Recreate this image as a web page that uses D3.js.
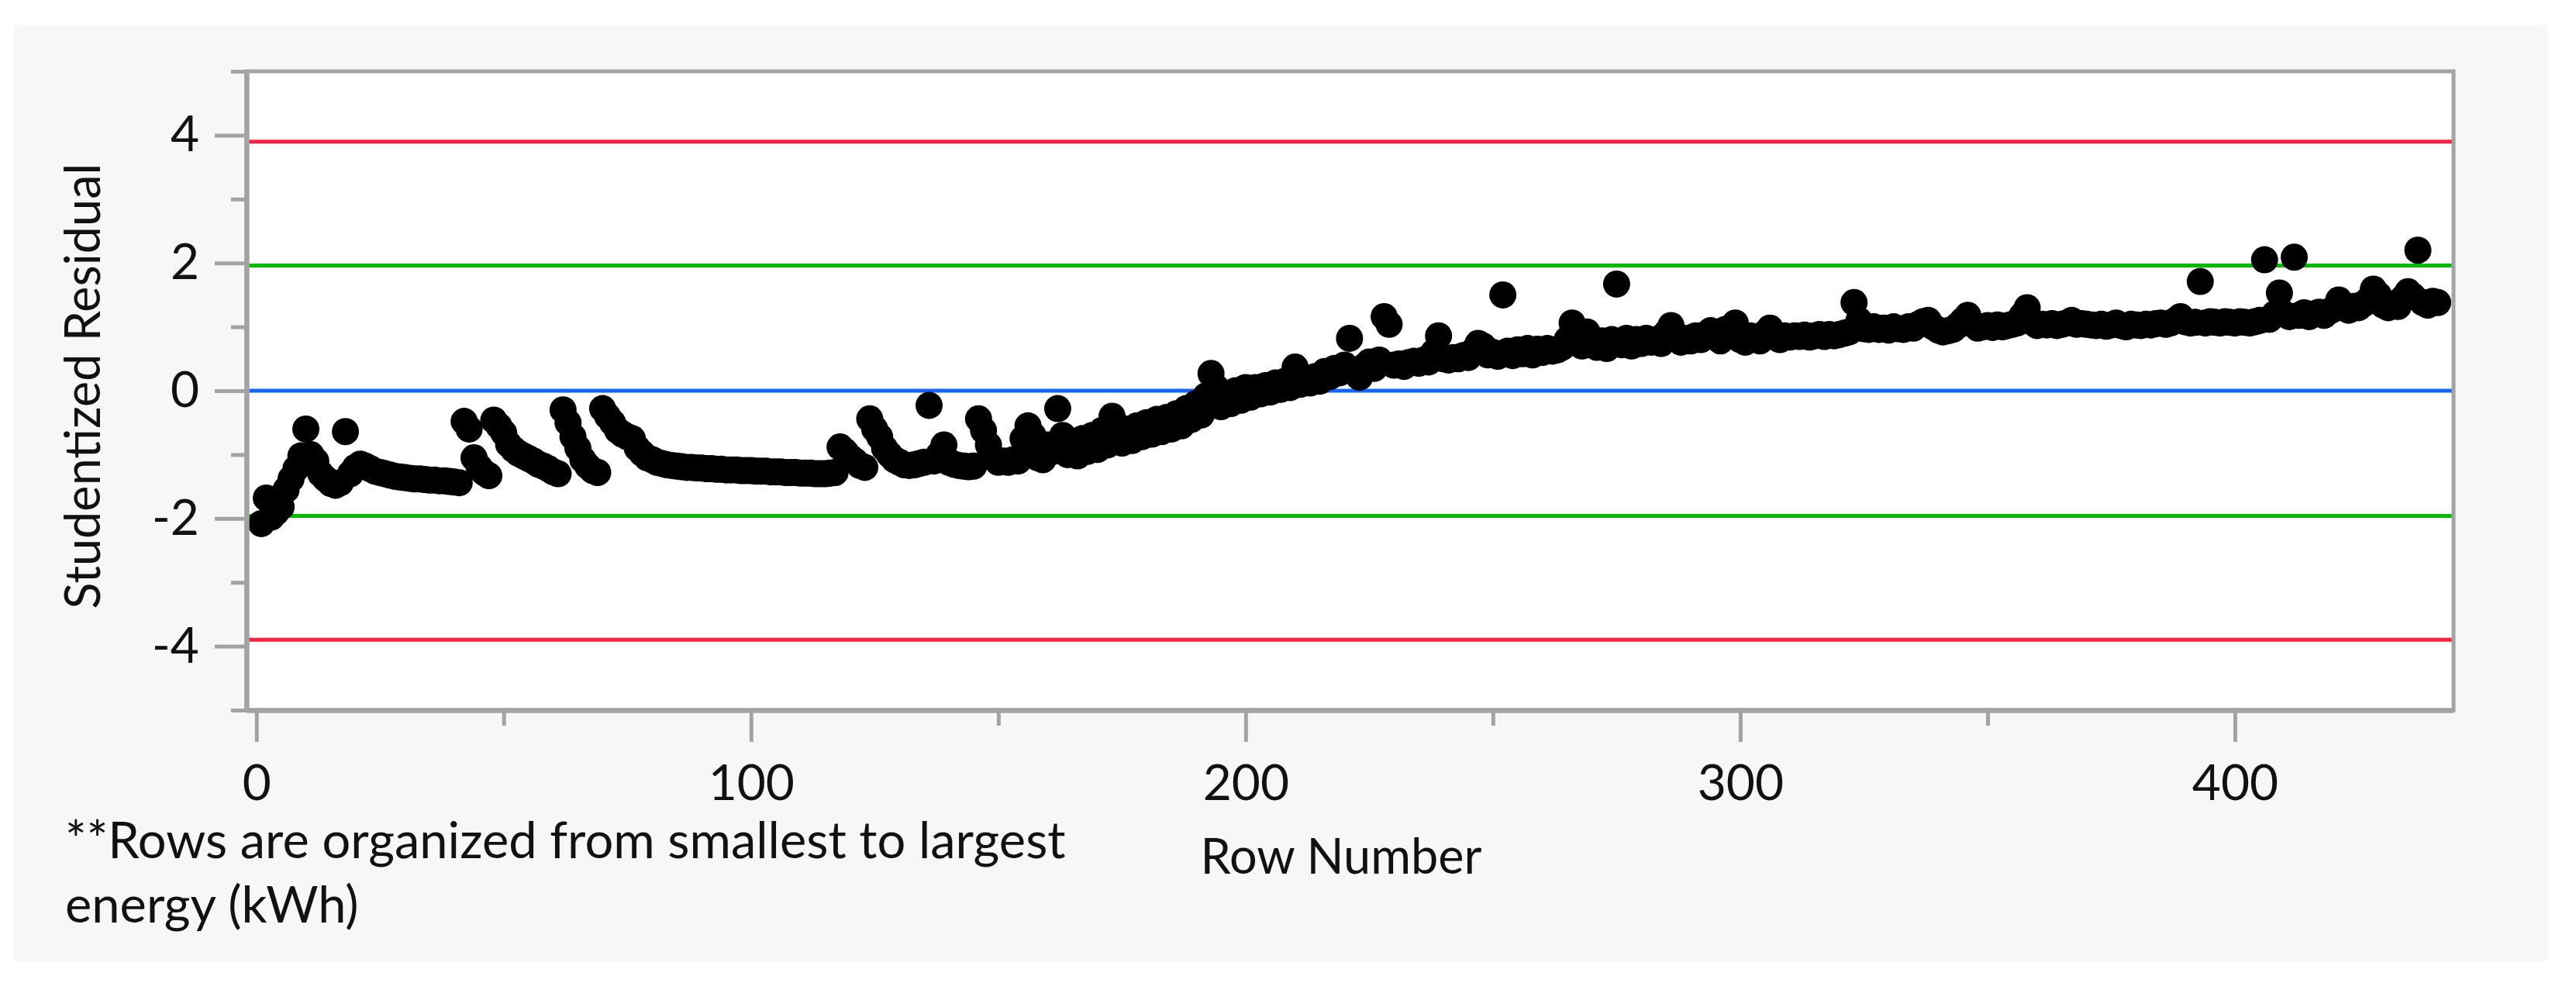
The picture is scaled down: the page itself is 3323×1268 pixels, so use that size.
<!DOCTYPE html>
<html>
<head>
<meta charset="utf-8">
<script src="https://cdn.jsdelivr.net/npm/d3@7"></script>
<style>
  body { margin: 0; background: #ffffff; }
  svg { display: block; font-family: Lato, 'Open Sans', sans-serif; }
</style>
</head>
<body>
<svg id="residuals" width="3323" height="1268"></svg>
<script>
// studentized residual per row, rows sorted by energy
var residual = [
  -2.08, -1.68, -1.98, -1.90, -1.82, -1.55, -1.38, -1.22, -1.02, -0.60,
  -1.00, -1.10, -1.30, -1.38, -1.45, -1.48, -1.44, -0.64, -1.30, -1.20,
  -1.15, -1.18, -1.22, -1.26, -1.28, -1.30, -1.32, -1.34, -1.35, -1.36,
  -1.37, -1.38, -1.38, -1.39, -1.40, -1.40, -1.41, -1.41, -1.42, -1.43,
  -1.44, -0.48, -0.60, -1.05, -1.19, -1.28, -1.33, -0.46, -0.55, -0.66,
  -0.84, -0.92, -0.98, -1.02, -1.06, -1.10, -1.15, -1.18, -1.22, -1.27,
  -1.30, -0.30, -0.50, -0.72, -0.90, -1.08, -1.18, -1.25, -1.28, -0.28,
  -0.40, -0.50, -0.62, -0.68, -0.72, -0.75, -0.90, -0.98, -1.05, -1.08,
  -1.12, -1.14, -1.16, -1.17, -1.18, -1.19, -1.20, -1.20, -1.21, -1.21,
  -1.22, -1.22, -1.23, -1.23, -1.24, -1.24, -1.24, -1.25, -1.25, -1.25,
  -1.26, -1.26, -1.26, -1.27, -1.27, -1.27, -1.28, -1.28, -1.28, -1.29,
  -1.29, -1.29, -1.30, -1.30, -1.30, -1.29, -1.28, -0.88, -0.95, -1.04,
  -1.10, -1.17, -1.20, -0.44, -0.60, -0.72, -0.90, -1.00, -1.08, -1.12,
  -1.16, -1.17, -1.16, -1.14, -1.12, -0.23, -1.10, -1.00, -0.85, -1.12,
  -1.15, -1.17, -1.18, -1.19, -1.18, -0.44, -0.62, -0.85, -1.05, -1.12,
  -1.10, -1.12, -1.08, -1.10, -0.75, -0.55, -0.70, -1.05, -1.08, -0.85,
  -0.95, -0.28, -0.70, -1.00, -0.82, -1.02, -0.75, -0.95, -0.70, -0.92,
  -0.62, -0.85, -0.40, -0.58, -0.82, -0.60, -0.78, -0.55, -0.72, -0.50,
  -0.68, -0.45, -0.64, -0.42, -0.60, -0.36, -0.55, -0.28, -0.45, -0.20,
  -0.38, -0.08, 0.27, 0.05, -0.25, -0.05, -0.20, 0.00, -0.15, 0.05,
  -0.10, 0.05, -0.05, 0.08, -0.02, 0.12, 0.02, 0.15, 0.05, 0.37,
  0.10, 0.18, 0.12, 0.22, 0.15, 0.30, 0.22, 0.35, 0.28, 0.40,
  0.82, 0.30, 0.21, 0.38, 0.45, 0.35, 0.48, 1.16, 1.04, 0.40,
  0.42, 0.38, 0.44, 0.46, 0.43, 0.48, 0.45, 0.60, 0.86, 0.50,
  0.48, 0.52, 0.50, 0.55, 0.52, 0.62, 0.74, 0.70, 0.56, 0.60,
  0.54, 1.50, 0.62, 0.55, 0.64, 0.58, 0.66, 0.56, 0.65, 0.60,
  0.66, 0.62, 0.64, 0.68, 0.80, 1.06, 0.90, 0.70, 0.92, 0.75,
  0.68, 0.78, 0.66, 0.80, 1.67, 0.72, 0.82, 0.70, 0.80, 0.74,
  0.82, 0.76, 0.80, 0.74, 0.90, 1.02, 0.84, 0.76, 0.82, 0.78,
  0.86, 0.80, 0.88, 0.94, 0.85, 0.78, 0.96, 0.88, 1.06, 0.80,
  0.76, 0.86, 0.82, 0.78, 0.90, 0.98, 0.84, 0.80, 0.86, 0.84,
  0.86, 0.85, 0.87, 0.84, 0.86, 0.88, 0.85, 0.88, 0.86, 0.88,
  0.90, 0.92, 1.38, 1.10, 0.97, 0.96, 1.00, 0.96, 0.98, 0.95,
  1.00, 0.97, 0.96, 1.00, 0.98, 1.04, 1.08, 1.10, 1.00, 0.95,
  0.92, 0.94, 0.96, 1.02, 1.10, 1.18, 1.05, 0.98, 1.00, 1.02,
  0.99, 1.03, 1.00, 1.02, 1.04, 1.06, 1.18, 1.30, 1.08, 1.02,
  1.04, 1.03, 1.05, 1.02, 1.04, 1.06, 1.10, 1.04, 1.05, 1.04,
  1.03, 1.02, 1.04, 1.01, 1.03, 1.06, 1.02, 1.00, 1.04, 1.03,
  1.02, 1.04, 1.03, 1.05, 1.06, 1.04, 1.06, 1.10, 1.16, 1.08,
  1.06, 1.07, 1.71, 1.06, 1.08, 1.07, 1.06, 1.08, 1.07, 1.06,
  1.08, 1.07, 1.06, 1.08, 1.10, 2.05, 1.12, 1.20, 1.53, 1.20,
  1.16, 2.09, 1.18, 1.22, 1.16, 1.20, 1.23, 1.18, 1.24, 1.28,
  1.42, 1.30, 1.26, 1.32, 1.30, 1.36, 1.42, 1.59, 1.50, 1.34,
  1.30, 1.36, 1.32, 1.45, 1.55, 1.48, 2.20, 1.38, 1.34, 1.40,
  1.38
]

var xMajorTicks = [0, 100, 200, 300, 400]
var xMinorTicks = [50, 150, 250, 350]
var yMajorTicks = [-4, -2, 0, 2, 4]
var yMinorTicks = [-5, -3, -1, 1, 3, 5]
var limitValues = [3.9, 1.96, 0, -1.96, -3.9]
var yTitle = 'Studentized Residual'
var xTitle = 'Row Number'
var footnote = ['**Rows are organized from smallest to largest', 'energy (kWh)']

function drawResidualPlot () {
  var svg = d3.select('#residuals')
  var left = 318, right = 3165, top = 92, bottom = 916
  var grey = '#a3a3a3'

  var x = d3.scaleLinear()
      .domain([-2, 444.2])
      .range([left, right])

  var y = d3.scaleLinear()
      .domain([-5, 5])
      .range([bottom, top])

  var lineColor = function (v) {
    if (v === 0) return '#1565ff'
    return Math.abs(v) > 3 ? '#ff1f3f' : '#00be00'
  }

  // plain hyphen for negatives, like the original
  var plainLabel = function (d) { return String(d) }

  // light grey frame behind everything
  svg.append('rect')
      .attr('x', 17)
      .attr('y', 32)
      .attr('width', 3270)
      .attr('height', 1208)
      .attr('fill', '#f7f7f7')

  svg.append('rect')
      .attr('x', left)
      .attr('y', top)
      .attr('width', right - left)
      .attr('height', bottom - top)
      .attr('fill', '#ffffff')

  svg.append('g')
      .attr('class', 'limits')
    .selectAll('line')
    .data(limitValues)
    .enter().append('line')
      .attr('x1', left)
      .attr('x2', right)
      .attr('y1', function (d) { return y(d) })
      .attr('y2', function (d) { return y(d) })
      .attr('stroke', lineColor)
      .attr('stroke-width', 5)

  svg.append('g')
      .attr('class', 'points')
    .selectAll('circle')
    .data(residual)
    .enter().append('circle')
      .attr('cx', function (d, i) { return x(i + 1) })
      .attr('cy', function (d) { return y(d) })
      .attr('r', 17.5)
      .attr('fill', '#000000')

  // plot border
  svg.append('rect')
      .attr('x', left)
      .attr('y', top)
      .attr('width', right - left)
      .attr('height', bottom - top)
      .attr('fill', 'none')
      .attr('stroke', grey)
      .attr('stroke-width', 5)

  var yMinor = svg.append('g')
      .attr('transform', 'translate(' + left + ',0)')
      .call(d3.axisLeft(y).tickValues(yMinorTicks).tickSize(20).tickSizeOuter(0).tickFormat(''))

  var yMajor = svg.append('g')
      .attr('transform', 'translate(' + left + ',0)')
      .call(d3.axisLeft(y).tickValues(yMajorTicks).tickSize(41).tickSizeOuter(0).tickPadding(20).tickFormat(plainLabel))

  var xMinor = svg.append('g')
      .attr('transform', 'translate(0,' + bottom + ')')
      .call(d3.axisBottom(x).tickValues(xMinorTicks).tickSize(20).tickSizeOuter(0).tickFormat(''))

  var xMajor = svg.append('g')
      .attr('transform', 'translate(0,' + bottom + ')')
      .call(d3.axisBottom(x).tickValues(xMajorTicks).tickSize(41).tickSizeOuter(0).tickPadding(30).tickFormat(plainLabel))

  ;[yMinor, yMajor, xMinor, xMajor].forEach(function (g) {
    g.select('.domain')
        .attr('stroke', grey)
        .attr('stroke-width', 6)
    g.selectAll('.tick line')
        .attr('stroke', grey)
        .attr('stroke-width', 5)
    g.selectAll('.tick text')
        .attr('fill', '#111111')
        .attr('font-size', 64)
        .attr('font-family', 'Lato, sans-serif')
  })

  svg.append('text')
      .attr('transform', 'translate(129,498) rotate(-90)')
      .attr('text-anchor', 'middle')
      .attr('font-size', 63)
      .attr('fill', '#111111')
      .text(yTitle)

  svg.append('text')
      .attr('x', 1730)
      .attr('y', 1127)
      .attr('text-anchor', 'middle')
      .attr('font-size', 63)
      .attr('fill', '#111111')
      .text(xTitle)

  svg.append('g')
      .attr('class', 'footnote')
    .selectAll('text')
    .data(footnote)
    .enter().append('text')
      .attr('x', 84)
      .attr('y', function (d, i) { return 1107 + i * 83 })
      .attr('font-size', 65)
      .attr('fill', '#111111')
      .text(function (d) { return d })
}

drawResidualPlot()
</script>
</body>
</html>
